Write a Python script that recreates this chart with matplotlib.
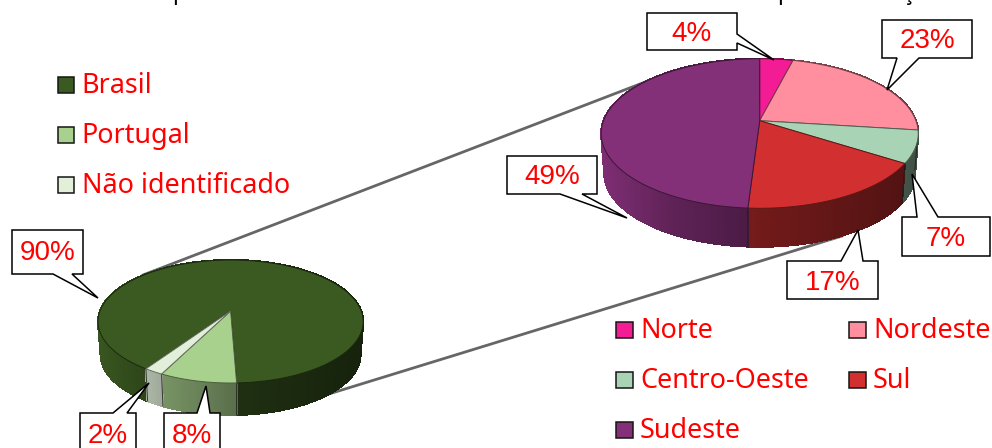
import numpy as np
import matplotlib
matplotlib.use("Agg")
import matplotlib.pyplot as plt
from matplotlib.patches import Polygon, Rectangle

# --- DATA ---
origin_labels = ['Brasil', 'Portugal', 'Não identificado']
origin_values = [90, 8, 2]
origin_colors = ['#3B5A21', '#A9D18E', '#E2EFD9']

region_labels = ['Norte', 'Nordeste', 'Centro-Oeste', 'Sul', 'Sudeste']
region_values = [4, 23, 7, 17, 49]
region_colors = ['#F41C94', '#FF8F9F', '#A8D3B4', '#D23030', '#843079']

LEGEND_FONT = 'Noto Sans'
LABEL_FONT = 'Liberation Sans'
LEGEND_SIZE = 19.4


def rim(pie, theta, z=0.0):
    # perspective view of the disc, theta clockwise from the far side
    u, v = np.sin(theta), np.cos(theta)
    w = 1 + pie['c'] * v
    s = 1 - 0.02 * z
    x = pie['cx'] + u * pie['b'] / w * s
    y = pie['cy'] - v * pie['a'] / w * s + z * pie['depth']
    return x, y


def side_shade(t):
    return np.interp(t, [0, .22, .5, 1], [.95, .72, .54, .38])


def draw_pie(ax, pie, values, colors, start_deg):
    edges = np.radians(start_deg + 3.6 * np.cumsum([0] + values))
    # side wall first, the top covers whatever is behind it
    for i, col in enumerate(colors):
        rgb = np.array(matplotlib.colors.to_rgb(col))
        angles = np.linspace(edges[i], edges[i + 1], max(int(values[i] * 3.6), 2) + 1)
        for a0, a1 in zip(angles[:-1], angles[1:]):
            x0, y0 = rim(pie, a0)
            x1, y1 = rim(pie, a1)
            x2, y2 = rim(pie, a1, 1)
            x3, y3 = rim(pie, a0, 1)
            t = ((x0 + x1) / 2 - (pie['cx'] - pie['rx'])) / (2 * pie['rx'])
            shade = rgb * side_shade(t)
            # no antialiasing here, otherwise the strips show as fine stripes
            ax.add_patch(Polygon([(x0, y0), (x1, y1), (x2, y2), (x3, y3)],
                                 facecolor=shade, edgecolor=shade, lw=.8,
                                 antialiased=False, zorder=3))
        x0, y0 = rim(pie, edges[i])
        x1, y1 = rim(pie, edges[i], 1)
        if y0 > pie['cy']:
            ax.plot([x0, x1], [y0, y1], color='#1a1a1a', lw=.7, alpha=.8, zorder=4)
    all_t = np.linspace(0, 2 * np.pi, 361)
    bx, by = rim(pie, all_t, 1)
    ax.plot(bx, by, color='#202020', lw=.5, alpha=.6, zorder=2.5)
    # top face
    for i, col in enumerate(colors):
        angles = np.linspace(edges[i], edges[i + 1], max(int(values[i] * 3.6), 2) + 1)
        xs, ys = rim(pie, angles)
        pts = [(pie['cx'], pie['cy'])] + list(zip(xs, ys))
        edge = np.array(matplotlib.colors.to_rgb(col)) * .45
        ax.add_patch(Polygon(pts, facecolor=col, edgecolor=edge, lw=.7,
                             joinstyle='round', zorder=5))


def callout(ax, text, box, tail):
    # box = x0, y0, x1, y1 and tail = first foot, tip, second foot
    x0, y0, x1, y1 = box
    a, tip, b = tail
    if a[1] == y0:
        outline = [(x0, y0), a, tip, b, (x1, y0), (x1, y1), (x0, y1)]
    elif a[1] == y1:
        outline = [(x0, y0), (x1, y0), (x1, y1), b, tip, a, (x0, y1)]
    else:
        outline = [(x0, y0), (x1, y0), a, tip, b, (x1, y1), (x0, y1)]
    ax.add_patch(Polygon(outline, facecolor='white', edgecolor='black', lw=1.1,
                         joinstyle='miter', zorder=8))
    ax.text((x0 + x1) / 2, min(y0 + 23, (y0 + y1) / 2 + 2.5), text, color='red',
            fontsize=20, family=LABEL_FONT, ha='center', va='center', zorder=9)


def legend_entry(ax, x, y, label, color):
    ax.add_patch(Rectangle((x, y), 16.5, 16.5, facecolor=color, edgecolor='#151515',
                           lw=1.1, zorder=6))
    ax.text(x + 24, y + 16, label, color='red', fontsize=LEGEND_SIZE,
            family=LEGEND_FONT, va='baseline', zorder=6)


fig = plt.figure(figsize=(9.92, 4.48), dpi=100)
ax = fig.add_axes([0, 0, 1, 1])
ax.set_xlim(0, 992)
ax.set_ylim(448, 0)
ax.axis('off')

# bits of the cut off title
for x, ch in [(172, 'p'), (777, 'p'), (903, 'ç')]:
    ax.text(x, 0, ch, color='black', fontsize=16, fontweight='bold',
            family='Noto Sans', va='baseline')

# connector lines behind the pies
ax.plot([143, 653], [275, 79], color='#666666', lw=2, zorder=2)
ax.plot([293, 842], [405, 236], color='#666666', lw=2, zorder=2)

left_pie = dict(cx=230.6, cy=311, a=59.7, b=130.6, c=.171, depth=33.4, rx=132.5)
right_pie = dict(cx=759.7, cy=120.7, a=72.6, b=156.2, c=.171, depth=40.2, rx=158.5)
draw_pie(ax, left_pie, origin_values, origin_colors, 213.8)
draw_pie(ax, right_pie, region_values, region_colors, 0)

callout(ax, '90%', (12, 230, 83, 274), ((53, 274), (98, 298), (72, 274)))
callout(ax, '2%', (80, 413, 136, 470), ((113, 413), (149, 383), (127, 413)))
callout(ax, '8%', (164, 413, 220, 470), ((197, 413), (206, 386), (210, 413)))
callout(ax, '4%', (647, 13, 737, 50), ((737, 34), (774, 60), (737, 43)))
callout(ax, '23%', (882, 20, 972, 58), ((897, 58), (887, 90), (919, 58)))
callout(ax, '7%', (902, 217, 990, 256), ((917, 217), (912, 174), (938, 217)))
callout(ax, '17%', (787, 261, 878, 299), ((841, 261), (858, 230), (863, 261)))
callout(ax, '49%', (507, 156, 597, 194), ((560, 194), (627, 218), (582, 194)))

for y, lab, col in zip([77, 127, 177], origin_labels, origin_colors):
    legend_entry(ax, 57.5, y, lab, col)

legend_x = [616, 849, 616, 849, 616]
legend_y = [322, 322, 372, 372, 422]
for x, y, lab, col in zip(legend_x, legend_y, region_labels, region_colors):
    legend_entry(ax, x, y, lab, col)

fig.savefig('out.png', dpi=100)
